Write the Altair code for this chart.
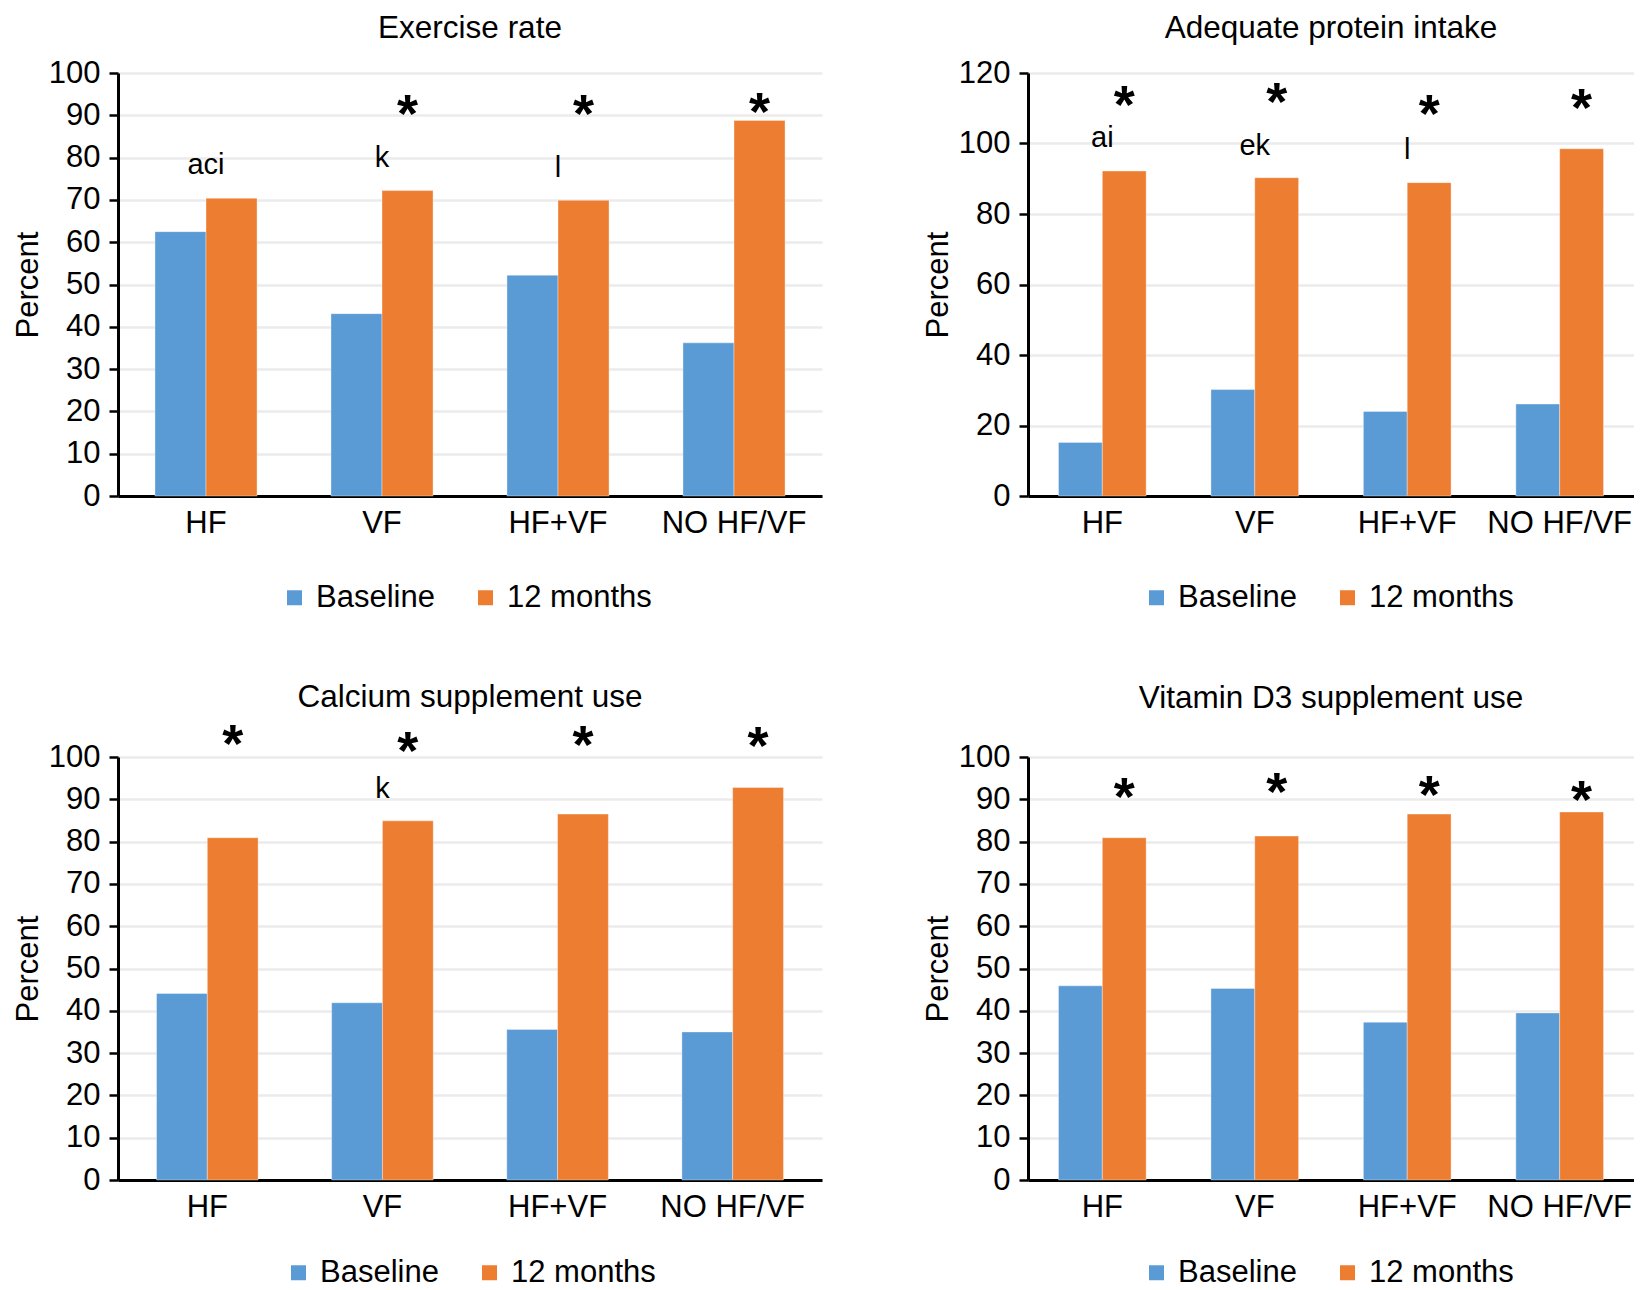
import altair as alt
import pandas as pd

FONT = "Liberation Sans"

groups = ["HF", "VF", "HF+VF", "NO HF/VF"]
series = ["Baseline", "12 months"]
colors = ["#5B9BD5", "#ED7D31"]

# Exercise rate
ex_base = [62.5, 43.1, 52.2, 36.2]
ex_12m = [70.4, 72.2, 69.9, 88.8]
ex_letters = ["aci", "k", "l", ""]
ex_letter_y = [76.2, 77.7, 75.4, 0]
ex_star_y = [None, 91.6, 91.6, 92.0]

# Adequate protein intake
pr_base = [15.2, 30.2, 24.0, 26.1]
pr_12m = [92.2, 90.3, 88.9, 98.5]
pr_letters = ["ai", "ek", "l", ""]
pr_letter_y = [99.0, 96.8, 95.5, 0]
pr_star_y = [112.4, 113.3, 109.8, 111.5]

# Calcium supplement use
ca_base = [44.1, 41.9, 35.6, 35.0]
ca_12m = [80.9, 84.9, 86.5, 92.8]
ca_letters = ["", "k", "", ""]
ca_letter_y = [0, 90.3, 0, 0]
ca_star_y = [104.2, 102.6, 104.0, 103.9]

# Vitamin D3 supplement use
vd_base = [45.9, 45.3, 37.3, 39.5]
vd_12m = [80.9, 81.3, 86.5, 87.0]
vd_letters = ["", "", "", ""]
vd_letter_y = [0, 0, 0, 0]
vd_star_y = [91.7, 93.0, 92.3, 91.0]

STAR_SIZE = 54


def panel(title, base, m12, letters, letter_y, star_y, ymax, ystep,
          width, height, lx, ly, title_offset, pin, pout):
    bars = pd.DataFrame({
        "group": groups * 2,
        "series": [series[0]] * 4 + [series[1]] * 4,
        "value": base + m12,
    })
    let_df = pd.DataFrame({"group": groups, "label": letters, "y": letter_y})
    let_df = let_df[let_df["label"] != ""]
    star_df = pd.DataFrame({"group": groups, "y": star_y,
                            "series": [series[1]] * 4, "label": ["*"] * 4})
    star_df = star_df.dropna()

    xenc = alt.X("group:N", sort=groups, title=None,
                 scale=alt.Scale(paddingInner=pin, paddingOuter=pout),
                 axis=alt.Axis(labelAngle=0, ticks=False, labelFontSize=31,
                               labelPadding=12, labelFont=FONT,
                               labelColor="black", domainColor="black",
                               domainWidth=3, grid=False))
    yscale = alt.Scale(domain=[0, ymax], nice=False)

    b = alt.Chart(bars).mark_bar(stroke="white", strokeWidth=0.6,
                                 strokeOpacity=0.6).encode(
        x=xenc,
        xOffset=alt.XOffset("series:N", sort=series),
        y=alt.Y("value:Q", scale=yscale, title="Percent",
                axis=alt.Axis(values=list(range(0, ymax + 1, ystep)),
                              labelFontSize=31, labelFont=FONT,
                              labelColor="black", labelPadding=9,
                              tickSize=9, tickWidth=2.5, tickColor="black",
                              domainColor="black", domainWidth=3,
                              gridColor="#EBEBEB", gridWidth=2.5,
                              titleFontSize=31, titleFont=FONT,
                              titleFontWeight="normal", titleColor="black",
                              titlePadding=4)),
        color=alt.Color("series:N", sort=series,
                        scale=alt.Scale(domain=series, range=colors),
                        legend=alt.Legend(orient="none", legendX=lx,
                                          legendY=ly, direction="horizontal",
                                          title=None, symbolType="square",
                                          symbolSize=225, symbolStrokeWidth=0,
                                          labelFontSize=31, labelFont=FONT,
                                          labelColor="black",
                                          columnPadding=35, labelOffset=6)),
    )
    lt = alt.Chart(let_df).mark_text(fontSize=29, font=FONT, color="black",
                                     baseline="alphabetic").encode(
        x=alt.X("group:N", sort=groups),
        y=alt.Y("y:Q", scale=yscale),
        text="label:N",
    )
    st = alt.Chart(star_df).mark_text(fontSize=STAR_SIZE, font=FONT,
                                      fontWeight="bold", color="black",
                                      baseline="alphabetic",
                                      dy=23).encode(
        x=alt.X("group:N", sort=groups),
        xOffset=alt.XOffset("series:N", sort=series),
        y=alt.Y("y:Q", scale=yscale),
        text="label:N",
    )
    return alt.layer(b, lt, st).properties(
        width=width, height=height,
        title=alt.TitleParams(title, fontSize=31.5, font=FONT,
                              fontWeight="normal", color="black",
                              anchor="middle", offset=title_offset),
    )


p1 = panel("Exercise rate", ex_base, ex_12m, ex_letters, ex_letter_y,
           ex_star_y, 100, 10, 704, 423, 161, 509, 13, 0.42, 0.21)
p2 = panel("Adequate protein intake", pr_base, pr_12m, pr_letters,
           pr_letter_y, pr_star_y, 120, 20, 606, 423, 113, 509, 13, 0.425, 0.2)
p3 = panel("Calcium supplement use", ca_base, ca_12m, ca_letters, ca_letter_y,
           ca_star_y, 100, 10, 704, 423, 165, 500, 5.5, 0.42, 0.22)
p4 = panel("Vitamin D3 supplement use", vd_base, vd_12m, vd_letters,
           vd_letter_y, vd_star_y, 100, 10, 606, 423, 113, 500, 26.5, 0.425, 0.2)

RES = dict(color="independent", y="independent", x="independent",
           xOffset="independent")

row1 = alt.hconcat(p1, p2, spacing=100).resolve_scale(**RES).resolve_legend(
    color="independent")
row2 = alt.hconcat(p3, p4, spacing=100).resolve_scale(**RES).resolve_legend(
    color="independent")

chart = alt.vconcat(row1, row2, spacing=69).resolve_scale(**RES).resolve_legend(
    color="independent").properties(
    padding={"left": 4, "top": 4, "right": 0, "bottom": 0}
).configure_view(stroke=None)

chart.save("out.html", embed_options={"renderer": "svg", "actions": False})
